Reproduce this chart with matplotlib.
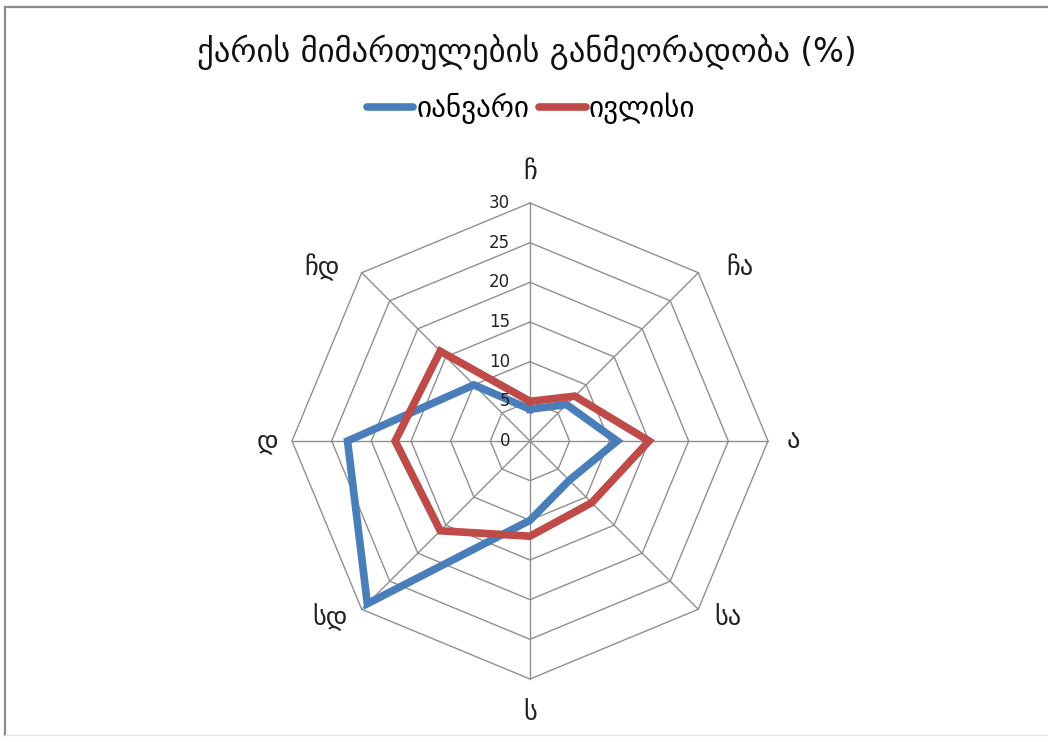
import numpy as np
import matplotlib
matplotlib.use("Agg")
import matplotlib.pyplot as plt
from matplotlib.lines import Line2D

plt.rcParams['font.family'] = ['DejaVu Sans']

# Wind directions, clockwise from north
directions = ['ჩ', 'ჩა', 'ა', 'სა', 'ს', 'სდ', 'დ', 'ჩდ']
january = [4, 6.5, 11, 7, 10, 29, 23, 10]
july = [5, 8, 15, 11, 12, 16, 17, 16]
series_names = ['იანვარი', 'ივლისი']
ring_values = [0, 5, 10, 15, 20, 25, 30]
title = 'ქარის მიმართულების განმეორადობა (%)'

W, H = 1048, 742
fig = plt.figure(figsize=(W / 100, H / 100), dpi=100)

# chart frame
fig.add_artist(Line2D([5 / W, 1.0], [1 - 7 / H, 1 - 7 / H], color='#8c8c8c', lw=1.6))
fig.add_artist(Line2D([5 / W, 5 / W], [1 - 7 / H, 1 - 735 / H], color='#8c8c8c', lw=1.6))
fig.add_artist(Line2D([5 / W, 1.0], [1 - 735 / H, 1 - 735 / H], color='#e6e6e6', lw=1.0))

cx, cy, R = 530, 441, 238
ax = fig.add_axes([(cx - R) / W, (H - cy - R) / H, 2 * R / W, 2 * R / H], projection='polar')
ax.set_theta_zero_location('N')
ax.set_theta_direction(-1)
ax.set_ylim(0, 30)
ax.grid(False)
ax.set_xticks([])
ax.set_yticks([])
ax.spines['polar'].set_visible(False)
ax.patch.set_alpha(0)

n = len(directions)
theta = np.arange(n) * 2 * np.pi / n
theta_c = np.append(theta, theta[0])

grid_col = '#8f8f8f'
# octagonal rings
for rv in ring_values[1:]:
    ax.plot(theta_c, [rv] * (n + 1), color=grid_col, lw=1.0, clip_on=False, zorder=1)
# spokes
for t in theta:
    ax.plot([t, t], [0, ring_values[-1]], color=grid_col, lw=1.0, clip_on=False, zorder=1)

# series
colors = ['#4a7ebb', '#be4b48']
for vals, col, name in zip([january, july], colors, series_names):
    v = np.append(vals, vals[0])
    ax.plot(theta_c, v, color=col, lw=5.5, solid_joinstyle='miter', clip_on=False, zorder=3, label=name)

# radial tick labels along the north spoke
for rv in ring_values:
    ax.annotate(str(rv), xy=(0, rv), xytext=(-20, 0), textcoords='offset pixels',
                ha='right', va='center', fontsize=12, color='#222222')

# direction labels
offsets = [(0, 31), (42, 5), (25, 0), (30, -9), (0, -34), (-32, -8), (-25, 0), (-40, 5)]
for t, lab, off in zip(theta, directions, offsets):
    ax.annotate(lab, xy=(t, ring_values[-1]), xytext=off, textcoords='offset pixels',
                ha='center', va='center', fontsize=19, color='#222222', annotation_clip=False)

fig.text(527 / W, 1 - 52 / H, title, ha='center', va='center', fontsize=23.5, color='#111111')

handles = [Line2D([0], [0], color=c, lw=5.5, solid_capstyle='round') for c in colors]
fig.legend(handles, series_names, loc='center', bbox_to_anchor=(531 / W, 1 - 108 / H),
           ncol=2, frameon=False, fontsize=21, handlelength=1.6, handletextpad=0.1,
           columnspacing=0.35)

fig.savefig('out.png', dpi=100, facecolor='white')
